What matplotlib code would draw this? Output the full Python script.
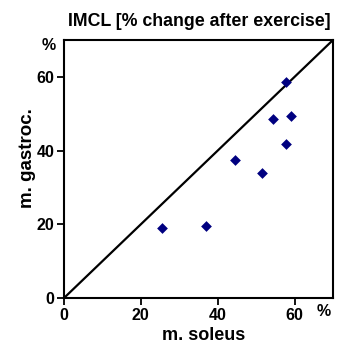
import matplotlib
matplotlib.use("Agg")
import matplotlib.pyplot as plt

soleus = [57.8, 54.4, 59.0, 57.8, 44.4, 51.5, 25.4, 37.0]
gastroc = [58.5, 48.7, 49.3, 41.8, 37.5, 33.9, 19.1, 19.5]
ticks = [0, 20, 40, 60]
lim = 70

plt.rcParams['font.family'] = ['Liberation Sans', 'DejaVu Sans']
fig = plt.figure(figsize=(3.4, 3.45), dpi=100)
ax = fig.add_axes([64/340, 47/345, 269/340, 258/345])
ax.plot([0, lim], [0, lim], color='black', lw=1.6, zorder=1)
ax.scatter(soleus, gastroc, marker='D', s=30, color='#000080', zorder=2, linewidths=0)
ax.set_xlim(0, lim)
ax.set_ylim(0, lim)
ax.set_xticks(ticks)
ax.set_yticks(ticks)
ax.tick_params(direction='out', length=5, width=1.3, labelsize=11.5, pad=2)
for lab in ax.get_xticklabels() + ax.get_yticklabels():
    lab.set_fontweight('bold')
for s in ax.spines.values():
    s.set_linewidth(1.5)
ax.set_xlabel('m. soleus', fontsize=13, fontweight='bold')
ax.set_ylabel('m. gastroc.', fontsize=13.5, fontweight='bold')
ax.xaxis.set_label_coords((204 - 64) / 269, (298 - 335) / 258)
ax.yaxis.set_label_coords((27 - 64) / 269, (298 - 158) / 258)
ax.xaxis.label.set_va('center')
ax.yaxis.label.set_va('center')
fig.text(199/340, 1 - 21/345, 'IMCL [% change after exercise]', ha='center', va='center',
         fontsize=12.8, fontweight='bold')
fig.text(49/340, 1 - 46/345, '%', ha='center', va='center', fontsize=11.5, fontweight='bold')
fig.text(324/340, 1 - 312/345, '%', ha='center', va='center', fontsize=11.5, fontweight='bold')
fig.savefig('out.png', dpi=100)
